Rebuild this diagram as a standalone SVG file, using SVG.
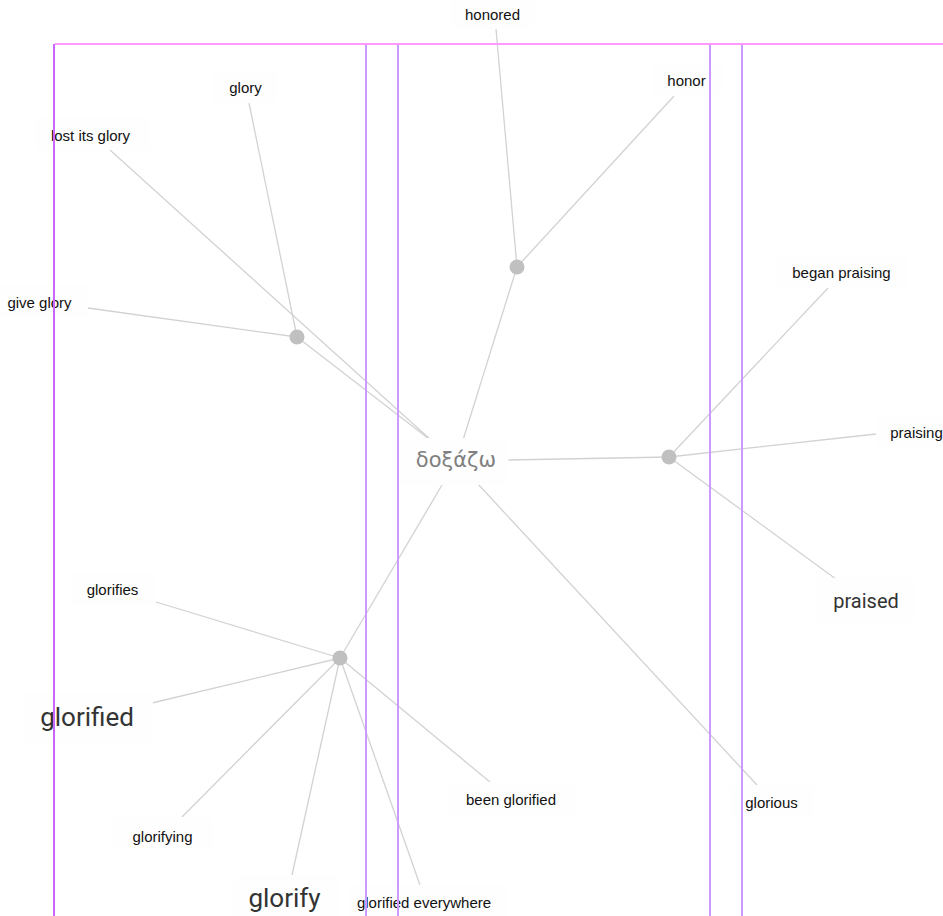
<svg xmlns="http://www.w3.org/2000/svg" width="943" height="916" viewBox="0 0 943 916">
<style>
.edge{stroke:#d2d2d2;stroke-width:1.3;fill:none}
.hub{fill:#c0c0c0}
.box{fill:#fefefe}
.sm{font-family:"Liberation Sans",Arial,sans-serif;font-size:15px;fill:#111;text-anchor:middle}
.lg{font-family:Roboto,"Liberation Sans",sans-serif;fill:#333;text-anchor:middle}
.ctr{font-family:"DejaVu Sans",sans-serif;font-size:21px;fill:#808080;text-anchor:middle}
.guide{stroke-width:2;fill:none}
</style>
<rect width="943" height="916" fill="#ffffff"/>
<g id="connectors">
<line class="edge" x1="88" y1="308" x2="297" y2="337"/>
<line class="edge" x1="249" y1="103" x2="297" y2="337"/>
<line class="edge" x1="110" y1="150" x2="431" y2="440"/>
<line class="edge" x1="297" y1="337" x2="429" y2="439"/>
<line class="edge" x1="496" y1="29" x2="517" y2="267"/>
<line class="edge" x1="674" y1="96" x2="517" y2="267"/>
<line class="edge" x1="517" y1="267" x2="463" y2="440"/>
<line class="edge" x1="828" y1="288" x2="669" y2="457"/>
<line class="edge" x1="876" y1="434" x2="669" y2="457"/>
<line class="edge" x1="840" y1="582" x2="669" y2="457"/>
<line class="edge" x1="669" y1="457" x2="508" y2="460"/>
<line class="edge" x1="477" y1="483" x2="757" y2="785"/>
<line class="edge" x1="442" y1="485" x2="340" y2="658"/>
<line class="edge" x1="156" y1="602" x2="340" y2="658"/>
<line class="edge" x1="152" y1="703" x2="340" y2="658"/>
<line class="edge" x1="182" y1="817" x2="340" y2="658"/>
<line class="edge" x1="292" y1="875" x2="340" y2="658"/>
<line class="edge" x1="420" y1="885" x2="340" y2="658"/>
<line class="edge" x1="490" y1="782" x2="340" y2="658"/>
</g>
<g id="hub-glory"><circle class="hub" cx="297" cy="337" r="7.5"/></g>
<g id="hub-honor"><circle class="hub" cx="517" cy="267" r="7.5"/></g>
<g id="hub-praise"><circle class="hub" cx="669" cy="457" r="7.5"/></g>
<g id="hub-glorify"><circle class="hub" cx="340" cy="658" r="7.5"/></g>
<g id="n-center"><rect class="box" x="400" y="438" width="108" height="47"/><text class="ctr" x="456" y="467">δοξάζω</text></g>
<g id="n-honored"><rect class="box" x="450" y="-4" width="85" height="33"/><text class="sm" x="492.5" y="20">honored</text></g>
<g id="n-honor"><rect class="box" x="652" y="62" width="70" height="33"/><text class="sm" x="686.5" y="86">honor</text></g>
<g id="n-glory"><rect class="box" x="213" y="70" width="64" height="33"/><text class="sm" x="245.5" y="93">glory</text></g>
<g id="n-lost-its-glory"><rect class="box" x="35" y="117" width="115" height="33"/><text class="sm" x="90.5" y="141">lost its glory</text></g>
<g id="n-give-glory"><rect class="box" x="0" y="284" width="88" height="33"/><text class="sm" x="39.5" y="308">give glory</text></g>
<g id="n-began-praising"><rect class="box" x="776" y="254" width="132" height="33"/><text class="sm" x="841.5" y="278">began praising</text></g>
<g id="n-praising"><rect class="box" x="876" y="414" width="67" height="33"/><text class="sm" x="916.5" y="438">praising</text></g>
<g id="n-praised"><rect class="box" x="815" y="578" width="100" height="44"/><text class="lg" x="866" y="608" font-size="20">praised</text></g>
<g id="n-glorious"><rect class="box" x="730" y="785" width="84" height="33"/><text class="sm" x="771.5" y="808">glorious</text></g>
<g id="n-been-glorified"><rect class="box" x="447" y="782" width="128" height="33"/><text class="sm" x="511" y="805">been glorified</text></g>
<g id="n-glorifies"><rect class="box" x="71" y="572" width="85" height="33"/><text class="sm" x="112.5" y="595">glorifies</text></g>
<g id="n-glorified"><rect class="box" x="23" y="693" width="130" height="49"/><text class="lg" x="87" y="726" font-size="26">glorified</text></g>
<g id="n-glorifying"><rect class="box" x="113" y="817" width="100" height="33"/><text class="sm" x="162.5" y="842">glorifying</text></g>
<g id="n-glorify"><rect class="box" x="233" y="875" width="107" height="41"/><text class="lg" x="284.5" y="907" font-size="26">glorify</text></g>
<g id="n-glorified-everywhere"><rect class="box" x="348" y="885" width="160" height="31"/><text class="sm" x="424" y="908">glorified everywhere</text></g>
<g id="guides">
<line class="guide" stroke="#ff99ff" x1="55" y1="44" x2="943" y2="44"/>
<line class="guide" stroke="#c866ff" x1="54" y1="44" x2="54" y2="916"/>
<line class="guide" stroke="#cc99ff" x1="366" y1="45" x2="366" y2="916"/>
<line class="guide" stroke="#cc99ff" x1="398" y1="45" x2="398" y2="916"/>
<line class="guide" stroke="#cc99ff" x1="710" y1="45" x2="710" y2="916"/>
<line class="guide" stroke="#cc99ff" x1="742" y1="45" x2="742" y2="916"/>
</g>
</svg>
